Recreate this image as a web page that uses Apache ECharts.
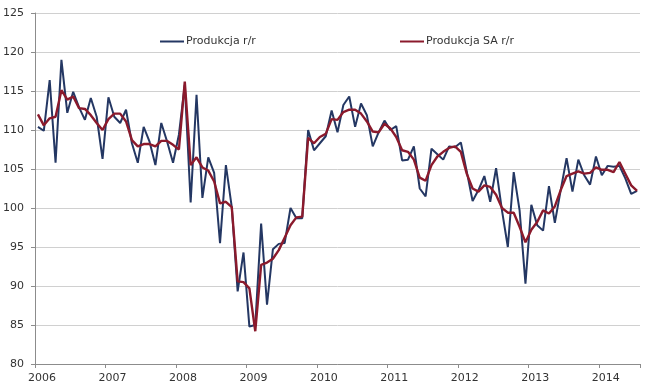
<!DOCTYPE html>
<html>
<head>
<meta charset="utf-8">
<script src="https://cdn.jsdelivr.net/npm/echarts@6/dist/echarts.min.js"></script>
<style>
html,body{margin:0;padding:0;background:#fff;}
#c{width:653px;height:390px;}
</style>
</head>
<body>
<div id="c"></div>
<script>
// Year tick labels (one per January); months run Jan 2006 .. Jul 2014
var yearLabels = ['2006','2007','2008','2009','2010','2011','2012','2013','2014'];
var monthsInLastYear = 7;

var categories = [];
yearLabels.forEach(function (y, k) {
  var n = (k === yearLabels.length - 1) ? monthsInLastYear : 12;
  for (var m = 1; m <= n; m++) categories.push(y + '-' + (m < 10 ? '0' + m : m));
});

var seriesNames = ['Produkcja r/r', 'Produkcja SA r/r'];

var produkcja = [
  110.4,109.9,116.4,105.8,119.0,112.2,114.9,112.9,111.3,114.1,111.7,106.3,
  114.2,111.7,110.9,112.6,108.3,105.8,110.4,108.5,105.5,110.9,108.5,105.8,
  109.4,115.8,100.7,114.5,101.3,106.5,104.5,95.5,105.5,100.1,89.3,94.3,
  84.8,85.0,98.0,87.6,94.7,95.4,95.5,100.0,98.7,98.7,110.0,107.4,
  108.3,109.2,112.5,109.7,113.2,114.3,110.4,113.4,111.9,107.9,109.7,111.2,
  110.0,110.5,106.1,106.2,107.9,102.5,101.5,107.6,106.9,106.2,107.9,107.8,
  108.4,104.7,100.9,102.3,104.1,100.8,105.1,99.7,95.0,104.6,99.7,90.3,
  100.4,97.8,97.1,102.8,98.1,102.3,106.4,102.1,106.2,104.2,103.0,106.6,
  104.2,105.4,105.3,105.4,103.8,101.8,102.2
];

var produkcjaSA = [
  112.0,110.6,111.5,111.7,115.1,113.9,114.3,112.8,112.7,111.9,110.9,110.0,
  111.4,112.1,112.1,111.1,108.7,107.9,108.2,108.2,107.9,108.6,108.6,108.1,
  107.5,116.2,105.5,106.5,105.2,104.8,103.4,100.6,100.8,100.1,90.6,90.5,
  89.7,84.2,92.7,93.0,93.5,94.6,96.2,97.8,98.8,98.9,109.0,108.3,
  109.1,109.5,111.4,111.3,112.3,112.6,112.6,112.1,111.1,109.8,109.7,110.8,
  110.2,109.1,107.4,107.2,106.2,103.9,103.5,105.5,106.6,107.2,107.7,107.9,
  107.2,104.4,102.5,102.1,102.9,102.7,101.7,100.0,99.4,99.4,97.6,95.6,
  97.2,98.2,99.7,99.3,100.2,102.3,104.1,104.4,104.7,104.4,104.5,105.2,
  104.9,104.9,104.6,105.9,104.4,102.9,102.2
];

var yMin = 80, yMax = 125, yStep = 5;
var colors = ['#243763', '#8b1a2c'];
var font = 'DejaVu Sans';

var chart = echarts.init(document.getElementById('c'), null, {renderer: 'canvas'});
chart.setOption({
  animation: false,
  backgroundColor: '#ffffff',
  textStyle: {fontFamily: font},
  grid: {left: 33, right: 13, top: 13, bottom: 26, containLabel: false},
  legend: [
    {
      data: [seriesNames[0]], left: 155, top: 31,
      icon: 'rect', itemWidth: 24, itemHeight: 2, itemGap: 0,
      textStyle: {fontFamily: font, fontSize: 11, color: '#333', padding: [0,0,0,-3]}
    },
    {
      data: [seriesNames[1]], left: 395, top: 31,
      icon: 'rect', itemWidth: 24, itemHeight: 2, itemGap: 0,
      textStyle: {fontFamily: font, fontSize: 11, color: '#333', padding: [0,0,0,-3]}
    }
  ],
  xAxis: {
    type: 'category',
    data: categories,
    boundaryGap: true,
    axisLine: {show: true, lineStyle: {color: '#8c8c8c', width: 1}},
    axisTick: {
      show: true, length: 4, lineStyle: {color: '#8c8c8c'},
      interval: function (i) { return i % 12 === 0; }
    },
    axisLabel: {
      interval: function (i) { return i % 12 === 0; },
      formatter: function (v) { return v.slice(0, 4); },
      fontFamily: font, fontSize: 11, color: '#333', margin: 9,
      padding: [0, 0, 0, 8]
    },
    splitLine: {show: false}
  },
  yAxis: {
    type: 'value',
    min: yMin, max: yMax, interval: yStep,
    axisLine: {show: true, lineStyle: {color: '#8c8c8c', width: 1}},
    axisTick: {show: true, length: 4, lineStyle: {color: '#8c8c8c'}},
    axisLabel: {fontFamily: font, fontSize: 11, color: '#333', margin: 11},
    splitLine: {show: true, lineStyle: {color: '#d0d0d0', width: 1}}
  },
  series: [
    {
      name: seriesNames[0], type: 'line', data: produkcja,
      showSymbol: false, symbol: 'none',
      lineStyle: {color: colors[0], width: 2},
      itemStyle: {color: colors[0]}, z: 2
    },
    {
      name: seriesNames[1], type: 'line', data: produkcjaSA,
      showSymbol: false, symbol: 'none',
      lineStyle: {color: colors[1], width: 2.4},
      itemStyle: {color: colors[1]}, z: 3
    }
  ]
});
</script>
</body>
</html>
